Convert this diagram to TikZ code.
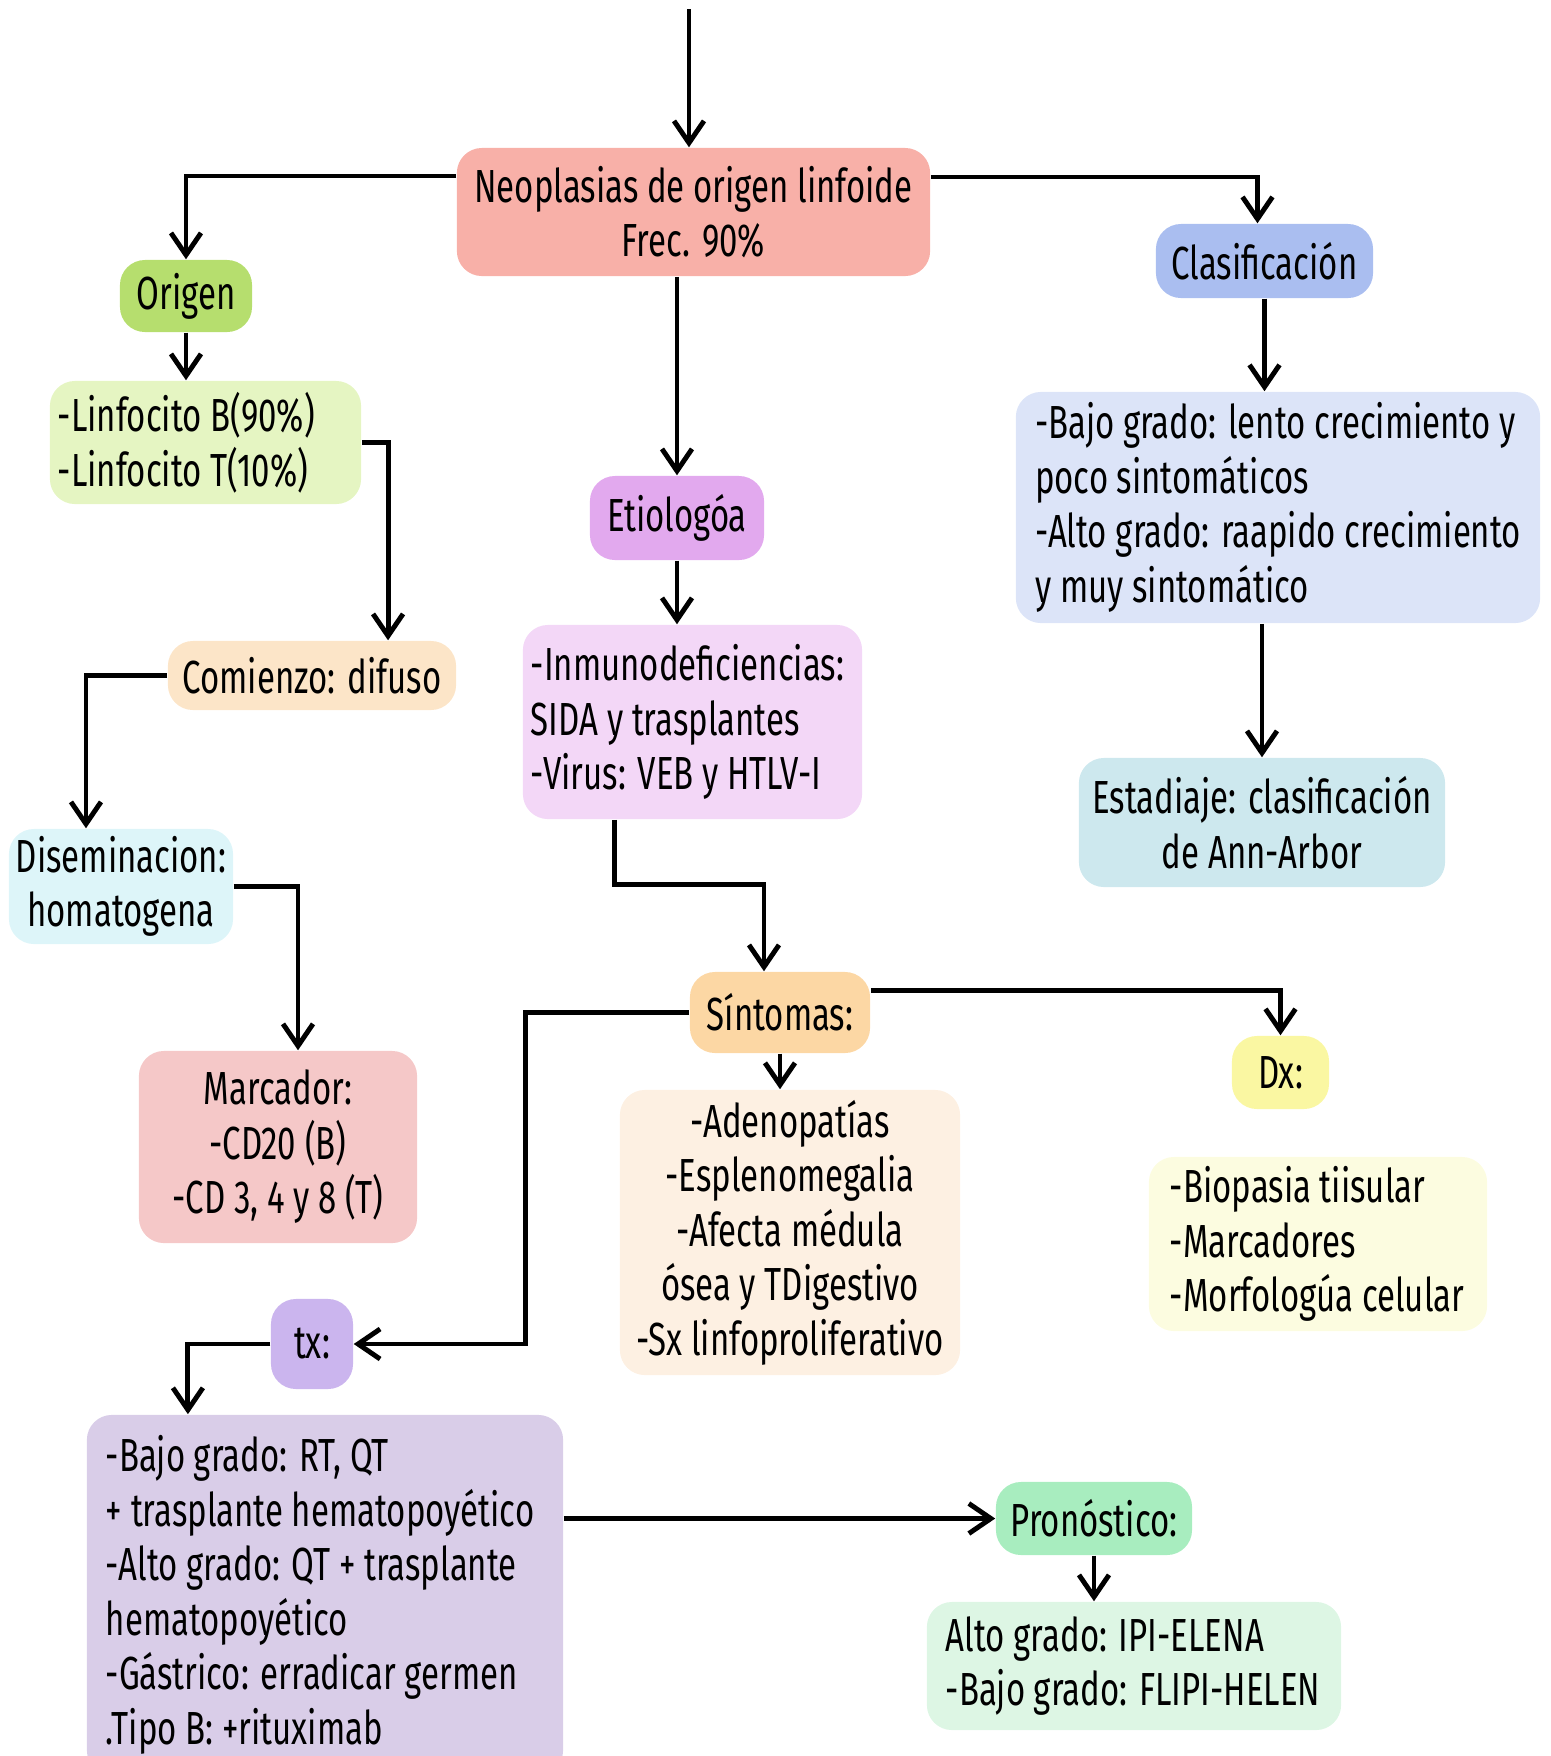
\documentclass[tikz,border=0pt]{standalone}
\usepackage{fontspec}
\setmainfont{Fira Sans}[FakeStretch=0.71]
\usetikzlibrary{arrows.meta}

\definecolor{cneo}{HTML}{F8B0A8}
\definecolor{corigen}{HTML}{B6DE6E}
\definecolor{clinfo}{HTML}{E5F5C2}
\definecolor{ccomienzo}{HTML}{FCE5C8}
\definecolor{cdisem}{HTML}{DDF5F9}
\definecolor{cmarcador}{HTML}{F5C8C8}
\definecolor{cetio}{HTML}{E2A9EE}
\definecolor{cinmuno}{HTML}{F3D7F7}
\definecolor{cclasif}{HTML}{AABEF0}
\definecolor{cgrado}{HTML}{DCE4F8}
\definecolor{cestadiaje}{HTML}{CDE8EE}
\definecolor{csintomas}{HTML}{FCD7A4}
\definecolor{csxlista}{HTML}{FDF0E2}
\definecolor{cdx}{HTML}{FAF7A2}
\definecolor{cdxlista}{HTML}{FCFCE0}
\definecolor{ctx}{HTML}{CBB5EE}
\definecolor{ctxlista}{HTML}{D9CDE8}
\definecolor{cprono}{HTML}{A8EDBF}
\definecolor{cpronolista}{HTML}{DDF6E4}

\begin{document}
\begin{tikzpicture}[x=0.01cm, y=-0.01cm,
    caja/.style={rounded corners=2.5mm, inner sep=0pt, align=center,
        font=\fontsize{13.2}{15.5}\selectfont},
    flecha/.style={-{Straight Barb[length=2.2mm,width=3mm]}, line width=1.4pt},
]

\useasboundingbox (0,0) rectangle (1551,1756);

\node[caja, fill=cneo, minimum width=4.73cm, minimum height=1.28cm] (neo) at (693.5,212) {Neoplasias de origen linfoide\\Frec. 90\%};
\node[caja, fill=corigen, minimum width=1.32cm, minimum height=0.72cm] (origen) at (186,296) {Origen};
\node[caja, fill=clinfo, minimum width=3.11cm, minimum height=1.23cm, text width=2.95cm, align=flush left] (linfo) at (205.5,442.5) {-Linfocito B(90\%)\\-Linfocito T(10\%)};
\node[caja, fill=ccomienzo, minimum width=2.88cm, minimum height=0.69cm] (comienzo) at (312,675.5) {Comienzo: difuso};
\node[caja, fill=cdisem, minimum width=2.24cm, minimum height=1.15cm] (disem) at (121,886.5) {Diseminacion:\\homatogena};
\node[caja, fill=cmarcador, minimum width=2.78cm, minimum height=1.92cm] (marcador) at (278,1147) {Marcador:\\-CD20 (B)\\-CD 3, 4 y 8 (T)};

\node[caja, fill=cetio, minimum width=1.74cm, minimum height=0.84cm] (etio) at (677,518) {Etiologóa};
\node[caja, fill=cinmuno, minimum width=3.39cm, minimum height=1.94cm, text width=3.23cm, align=flush left] (inmuno) at (692.5,722) {-Inmunodeficiencias:\\SIDA y trasplantes\\-Virus: VEB y HTLV-I};

\node[caja, fill=cclasif, minimum width=2.17cm, minimum height=0.74cm] (clasif) at (1264.5,261) {Clasificación};
\node[caja, fill=cgrado, minimum width=5.24cm, minimum height=2.31cm, align=left] (grado) at (1278,507.5) {-Bajo grado: lento crecimiento y\\poco sintomáticos\\-Alto grado: raapido crecimiento\\y muy sintomático};
\node[caja, fill=cestadiaje, minimum width=3.66cm, minimum height=1.29cm] (estadiaje) at (1262,822.5) {Estadiaje: clasificación\\de Ann-Arbor};

\node[caja, fill=csintomas, minimum width=1.80cm, minimum height=0.81cm] (sintomas) at (780,1012.5) {Síntomas:};
\node[caja, fill=csxlista, minimum width=3.40cm, minimum height=2.85cm] (sxlista) at (790,1232.5) {-Adenopatías\\-Esplenomegalia\\-Afecta médula\\ósea y TDigestivo\\-Sx linfoproliferativo};
\node[caja, fill=cdx, minimum width=0.97cm, minimum height=0.73cm] (dx) at (1280.5,1072.5) {Dx:};
\node[caja, fill=cdxlista, minimum width=3.38cm, minimum height=1.74cm, text width=2.96cm, align=flush left] (dxlista) at (1318,1244) {-Biopasia tiisular\\-Marcadores\\-Morfologúa celular};

\node[caja, fill=ctx, minimum width=0.82cm, minimum height=0.90cm] (tx) at (312,1344) {tx:};
\node[caja, fill=ctxlista, minimum width=4.76cm, minimum height=3.6cm, text width=4.38cm, align=flush left] (txlista) at (325,1595) {-Bajo grado: RT, QT\\+ trasplante hematopoyético\\-Alto grado: QT + trasplante\\hematopoyético\\-Gástrico: erradicar germen\\.Tipo B: +rituximab};
\node[caja, fill=cprono, minimum width=1.96cm, minimum height=0.73cm] (prono) at (1094,1518.5) {Pronóstico:};
\node[caja, fill=cpronolista, minimum width=4.14cm, minimum height=1.28cm, text width=3.76cm, align=flush left] (pronolista) at (1134,1666) {Alto grado: IPI-ELENA\\-Bajo grado: FLIPI-HELEN};

\coordinate (inicio) at (689,9);
\draw[flecha] (inicio) -- (inicio |- neo.north);
\draw[flecha] ([yshift=3.6mm]neo.west) -| (origen.north);
\draw[flecha] ([yshift=3.5mm]neo.east) -| ([xshift=-0.7mm]clasif.north);
\draw[flecha] (neo.south -| etio.north) -- (etio.north);
\draw[flecha] (origen.south) -- (origen.south |- linfo.north);
\draw[flecha] (linfo.east) -| ([xshift=7.6mm]comienzo.north);
\draw[flecha] (comienzo.west) -| ([xshift=-3.5mm]disem.north);
\draw[flecha] (disem.east) -| ([xshift=2mm]marcador.north);
\draw[flecha] (etio.south) -- (etio.south |- inmuno.north);
\draw[flecha] (clasif.south) -- (clasif.south |- grado.north);
\draw[flecha] (estadiaje.north |- grado.south) -- (estadiaje.north);
\draw[flecha] ([xshift=-7.8mm]inmuno.south) |- ([xshift=-1.6mm,yshift=8.7mm]sintomas.north) -- ([xshift=-1.6mm]sintomas.north);
\draw[flecha] ([yshift=2.2mm]sintomas.east) -| (dx.north);
\draw[flecha] (sintomas.west) -- ++(-164,0) |- (tx.east);
\draw[flecha] (sintomas.south) -- (sintomas.south |- sxlista.north);
\draw[flecha] (tx.west) -| ([xshift=-13.7mm]txlista.north);
\draw[flecha] (prono.west -| txlista.east) -- (prono.west);
\draw[flecha] (prono.south) -- (prono.south |- pronolista.north);

\end{tikzpicture}
\end{document}
